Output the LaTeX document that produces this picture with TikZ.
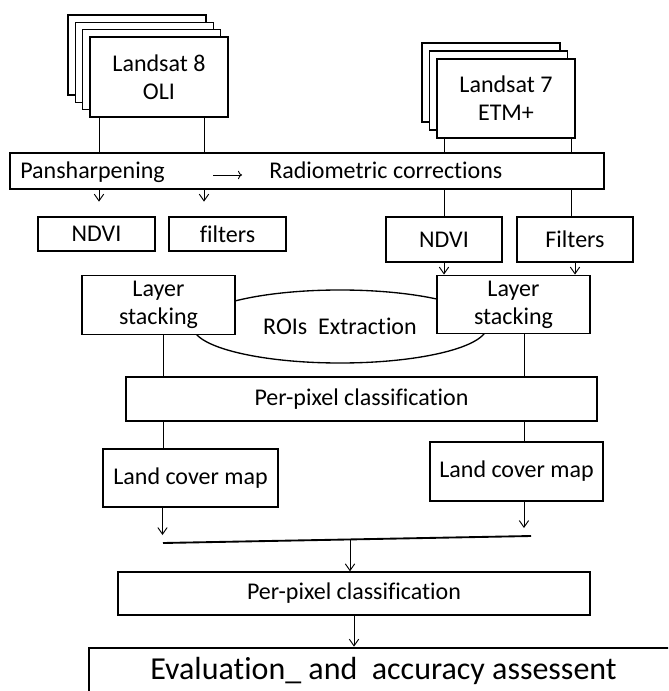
\documentclass[tikz,border=0pt]{standalone}
\usepackage{fontspec}
\setmainfont{Carlito}[Ligatures=NoCommon]
\usetikzlibrary{arrows.meta, shapes.geometric}

\begin{document}
\begin{tikzpicture}[x=0.75pt, y=-0.75pt, >={Straight Barb[length=5pt,width=7pt]},
    box/.style={draw, fill=white, line width=1pt, inner sep=0pt, align=center, font=\fontsize{18}{21}\selectfont},
    link/.style={line width=0.7pt}]
    \clip (0,0) rectangle (668,691);
    \fill[white] (0,0) rectangle (668,691);

    \foreach \i in {3,2,1}
        \node[box, minimum width=103.5pt, minimum height=60pt] (l8\i) at (159-7.33*\i,77-7.33*\i) {};
    \node[box, minimum width=103.5pt, minimum height=60pt] (l8) at (159,77) {Landsat 8\\OLI};
    \foreach \i in {2,1}
        \node[box, minimum width=103.5pt, minimum height=59.25pt] (l7\i) at (506-7.5*\i,98.5-8*\i) {};
    \node[box, minimum width=103.5pt, minimum height=59.25pt] (l7) at (506,98.5) {Landsat 7\\ETM+};

    \node[box, minimum width=445.5pt, minimum height=27pt] (prep) at (307,171) {};
    \node[anchor=base west, inner sep=0pt, font=\fontsize{18}{21}\selectfont] (pan) at (20,178.5) {Pansharpening};
    \node[anchor=base west, inner sep=0pt, font=\fontsize{18}{21}\selectfont] (rad) at (269,178.5) {Radiometric corrections};
    \coordinate (a1) at (213,175);
    \coordinate (a2) at (242,175);
    \draw[link, -{To[length=3pt]}] (a1) -- (a2);

    \node[box, minimum width=87.75pt, minimum height=25.5pt] (ndvia) at (96.5,234) {NDVI};
    \node[box, minimum width=87.75pt, minimum height=25.5pt] (filta) at (227.5,234) {filters};
    \node[box, minimum width=87pt, minimum height=33.75pt] (ndvib) at (444,239.5) {NDVI};
    \node[box, minimum width=87pt, minimum height=33.75pt] (filtb) at (575,239.5) {Filters};

    \draw[link] ([xshift=-45pt]l8.south) -- ([xshift=-45pt]l8.south |- prep.north);
    \draw[link] ([xshift=33.75pt]l8.south) -- ([xshift=33.75pt]l8.south |- prep.north);
    \draw[link, ->, shorten >=11pt] ([xshift=-45pt]l8.south |- prep.south) -- ([xshift=-45pt]l8.south |- ndvia.north);
    \draw[link, ->, shorten >=11pt] ([xshift=33.75pt]l8.south |- prep.south) -- ([xshift=33.75pt]l8.south |- filta.north);

    \draw[link] (ndvib.north |- l7.south) -- (ndvib.north |- prep.north);
    \draw[link] (ndvib.north |- prep.south) -- (ndvib.north);
    \draw[link] ([xshift=-3pt]filtb.north |- l7.south) -- ([xshift=-3pt]filtb.north |- prep.north);
    \draw[link] ([xshift=-3pt]filtb.north |- prep.south) -- ([xshift=-3pt]filtb.north);

    \node[draw, ellipse, line width=1pt, inner sep=0pt, minimum width=220.5pt, minimum height=54.75pt,
        font=\fontsize{18}{21}\selectfont] (roi) at (340,326.5) {ROIs\ \ Extraction};
    \node[box, minimum width=114.75pt, minimum height=43.9pt] (lsa) at (158.5,305) {Layer\\stacking};
    \node[box, minimum width=114.75pt, minimum height=43.9pt] (lsb) at (513.5,304.5) {Layer\\stacking};

    \draw[link, ->] (ndvib.south) -- (ndvib.south |- lsb.north);
    \draw[link, ->] (filtb.south) -- (filtb.south |- lsb.north);

    \node[box, minimum width=353.25pt, minimum height=33pt] (pp1) at (361.5,399) {Per-pixel classification};
    \node[box, minimum width=131.25pt, minimum height=43.5pt] (lcma) at (190.5,478) {Land cover map};
    \node[box, minimum width=129.75pt, minimum height=44.25pt] (lcmb) at (516.5,471.5) {Land cover map};

    \draw[link] ([xshift=3.4pt]lsa.south) -- ([xshift=3.4pt]lsa.south |- pp1.north);
    \draw[link] ([xshift=7.9pt]lsb.south) -- ([xshift=7.9pt]lsb.south |- pp1.north);
    \draw[link] ([xshift=3.4pt]lsa.south |- pp1.south) -- ([xshift=3.4pt]lsa.south |- lcma.north);
    \draw[link] ([xshift=7.9pt]lsb.south |- pp1.south) -- ([xshift=7.9pt]lsb.south |- lcmb.north);

    \coordinate (ml) at (163,543);
    \coordinate (mr) at (531,536);
    \coordinate (mm) at (350,539.5);
    \draw[line width=1.4pt] (ml) -- (mr);
    \draw[link, ->, shorten >=6pt] ([xshift=-21pt]lcma.south) -- ([xshift=-21pt]lcma.south |- ml);
    \draw[link, ->, shorten >=6pt] ([xshift=5.6pt]lcmb.south) -- ([xshift=5.6pt]lcmb.south |- mr);

    \node[box, minimum width=354pt, minimum height=32.25pt] (pp2) at (354,593.5) {Per-pixel classification};
    \draw[link, ->] (mm) -- (mm |- pp2.north);

    \node[box, line width=2pt, minimum width=441.75pt, minimum height=34.5pt,
        font=\fontsize{24}{28}\selectfont] (eval) at (383.5,671) {Evaluation\_ and\ \ accuracy assessent};
    \draw[link, ->] (pp2.south) -- (pp2.south |- eval.north);
\end{tikzpicture}
\end{document}
